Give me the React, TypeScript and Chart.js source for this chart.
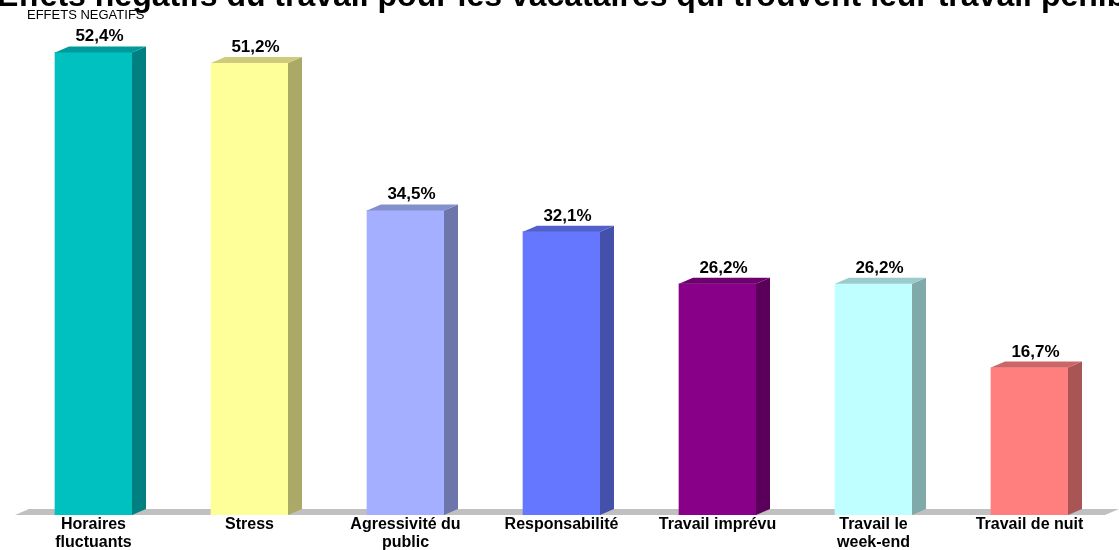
import React, { useEffect, useRef } from "react";
import { Chart, registerables } from "chart.js";

Chart.register(...registerables);

const TITLE = "Effets négatifs du travail pour les vacataires qui trouvent leur travail pénible";
const SUBTITLE = "EFFETS NEGATIFS";
const categories: string[][] = [
  ["Horaires", "fluctuants"],
  ["Stress"],
  ["Agressivité du", "public"],
  ["Responsabilité"],
  ["Travail imprévu"],
  ["Travail le", "week-end"],
  ["Travail de nuit"],
];
const values = [52.4, 51.2, 34.5, 32.1, 26.2, 26.2, 16.7];
const frontColors = ["#00C0C0", "#FFFF99", "#A4B0FF", "#6677FF", "#880088", "#C0FFFF", "#FF7F7F"];
const topColors = ["#009A9A", "#CCCC7A", "#8390CC", "#5260CC", "#6D006D", "#9ACCCC", "#CC6666"];
const sideColors = ["#008080", "#AAAA66", "#6D76AA", "#4450AA", "#5A005A", "#80AAAA", "#AA5555"];

const FONT = "'Liberation Sans', Arial, sans-serif";
const DX = 14;
const DY = 6;

const fmt = (v: number) => v.toFixed(1).replace(".", ",") + "%";

const threeD = {
  id: "threeD",
  beforeDatasetsDraw(chart: any) {
    const ctx = chart.ctx;
    const y0 = chart.scales.y.getPixelForValue(0);
    ctx.save();
    ctx.fillStyle = "#C0C0C0";
    ctx.beginPath();
    ctx.moveTo(15, y0);
    ctx.lineTo(15 + DX, y0 - DY);
    ctx.lineTo(chart.width, y0 - DY);
    ctx.lineTo(chart.width - DX, y0);
    ctx.closePath();
    ctx.fill();
    ctx.restore();
  },
  afterDatasetsDraw(chart: any) {
    const ctx = chart.ctx;
    const meta = chart.getDatasetMeta(0);
    ctx.save();
    meta.data.forEach((bar: any, i: number) => {
      const l = bar.x - bar.width / 2;
      const r = bar.x + bar.width / 2;
      const t = bar.y;
      const b = bar.base;
      ctx.fillStyle = sideColors[i];
      ctx.beginPath();
      ctx.moveTo(r, t);
      ctx.lineTo(r + DX, t - DY);
      ctx.lineTo(r + DX, b - DY);
      ctx.lineTo(r, b);
      ctx.closePath();
      ctx.fill();
      ctx.fillStyle = topColors[i];
      ctx.beginPath();
      ctx.moveTo(l, t);
      ctx.lineTo(l + DX, t - DY);
      ctx.lineTo(r + DX, t - DY);
      ctx.lineTo(r, t);
      ctx.closePath();
      ctx.fill();
      ctx.fillStyle = "#000";
      ctx.font = `bold 17px ${FONT}`;
      ctx.textAlign = "center";
      ctx.textBaseline = "alphabetic";
      ctx.fillText(fmt(values[i]), bar.x + 6, t - DY - 5);
    });
    ctx.restore();
  },
  afterDraw(chart: any) {
    const ctx = chart.ctx;
    const xs = chart.scales.x;
    const y0 = chart.scales.y.getPixelForValue(0);
    ctx.save();
    ctx.fillStyle = "#000";
    ctx.textBaseline = "alphabetic";
    ctx.font = `bold 32px ${FONT}`;
    ctx.textAlign = "left";
    ctx.fillText(TITLE, -3, 6);
    ctx.font = `13px ${FONT}`;
    ctx.fillText(SUBTITLE, 27, 19);
    ctx.font = `bold 16px ${FONT}`;
    ctx.textAlign = "center";
    categories.forEach((lines, i) => {
      const x = xs.getPixelForValue(i);
      lines.forEach((ln, k) => {
        ctx.fillText(ln, x, y0 + 14 + k * 18);
      });
    });
    ctx.restore();
  },
};

export default function App() {
  const ref = useRef<HTMLCanvasElement>(null);
  useEffect(() => {
    document.body.style.margin = "0";
    const chart = new Chart(ref.current!, {
      type: "bar",
      data: {
        labels: categories.map((c) => c.join(" ")),
        datasets: [
          {
            data: values,
            backgroundColor: frontColors,
            borderWidth: 0,
            barThickness: 77,
          },
        ],
      },
      options: {
        responsive: false,
        animation: false,
        layout: { padding: { top: 3, bottom: 35, left: 15.5, right: 11.5 } },
        plugins: { legend: { display: false }, tooltip: { enabled: false }, title: { display: false } },
        scales: {
          x: { display: false, grid: { display: false } },
          y: { display: false, min: 0, max: 58, grid: { display: false } },
        },
      },
      plugins: [threeD],
    });
    return () => chart.destroy();
  }, []);
  return (
    <div style={{ width: 1119, height: 550 }}>
      <canvas ref={ref} width={1119} height={550} />
    </div>
  );
}
